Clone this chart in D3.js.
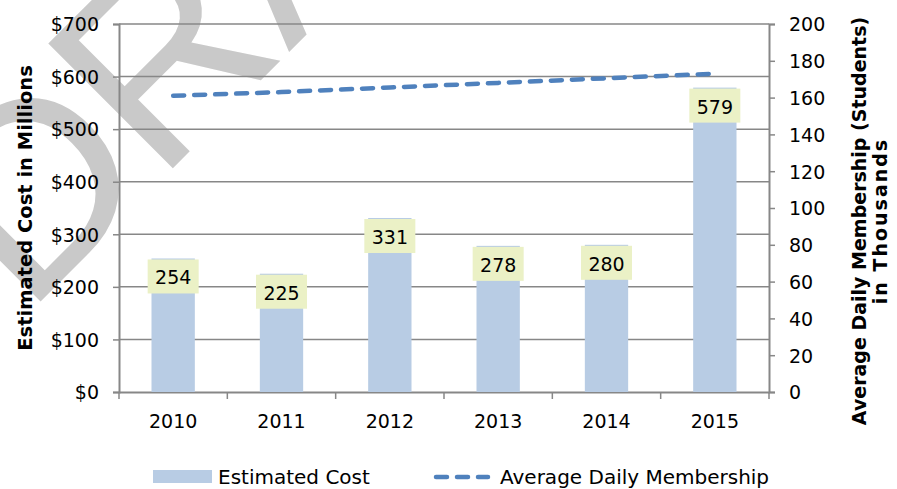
<!DOCTYPE html>
<html>
<head>
<meta charset="utf-8">
<script src="https://cdn.jsdelivr.net/npm/d3@7"></script>
<style>
  body { margin: 0; background: #fff; }
  svg { display: block; font-family: "DejaVu Sans", Verdana, sans-serif; }
</style>
</head>
<body>
<script>
// chart values
const years = ['2010', '2011', '2012', '2013', '2014', '2015']
const estimatedCost = [254, 225, 331, 278, 280, 579]
const membership = [161, 163, 165.5, 168, 170.5, 173]
const costTicks = [0, 100, 200, 300, 400, 500, 600, 700]
const memberTicks = [0, 20, 40, 60, 80, 100, 120, 140, 160, 180, 200]

const W = 897, H = 489
const plot = {left: 119, right: 769, top: 24, bottom: 392}

const svg = d3.select('body').append('svg')
  .attr('width', W)
  .attr('height', H)

// watermark behind everything (letters placed one at a time, runs off the top edge)
const watermark = svg.append('g')
  .style('font-family', '"Liberation Sans", Arial, sans-serif')
  .style('font-size', '256px')
  .style('fill', '#c9c9c9')
watermark.append('text')
  .attr('transform', 'translate(25,317) rotate(-45) scale(1.05,1)')
  .text('D')
watermark.append('text')
  .attr('transform', 'translate(158,183) rotate(-45)')
  .text('RA')

const x = d3.scaleBand()
  .domain(years)
  .range([plot.left, plot.right])
  .paddingInner(0.6)
  .paddingOuter(0.3)

const yCost = d3.scaleLinear().domain([0, 700]).range([plot.bottom, plot.top])
const yMember = d3.scaleLinear().domain([0, 200]).range([plot.bottom, plot.top])

const AXIS_COLOR = '#878787'

// gridlines
svg.append('g')
  .selectAll('line')
  .data(costTicks.slice(1))
  .join('line')
  .attr('x1', plot.left)
  .attr('x2', plot.right)
  .attr('y1', d => yCost(d))
  .attr('y2', d => yCost(d))
  .style('stroke', AXIS_COLOR)
  .style('stroke-width', 1.5)

// left axis
const leftAxis = svg.append('g')
  .attr('transform', `translate(${plot.left},0)`)
  .call(d3.axisLeft(yCost).tickValues(costTicks).tickFormat(d => '$' + d).tickSize(6).tickPadding(14))

// right axis
const rightAxis = svg.append('g')
  .attr('transform', `translate(${plot.right},0)`)
  .call(d3.axisRight(yMember).tickValues(memberTicks).tickSize(6).tickPadding(14))

// bottom axis, ticks at category boundaries
const step = x.step()
const boundaries = d3.range(years.length + 1).map(i => plot.left + i * step)
const bottomAxis = svg.append('g')
  .attr('transform', `translate(0,${plot.bottom})`)
  .call(d3.axisBottom(x).tickSize(0).tickPadding(23))
bottomAxis.selectAll('.bound')
  .data(boundaries)
  .join('line')
  .attr('class', 'bound')
  .attr('x1', d => d).attr('x2', d => d)
  .attr('y1', 0).attr('y2', 7)

;[leftAxis, rightAxis, bottomAxis].forEach(g => {
  g.select('.domain').style('stroke', AXIS_COLOR).style('stroke-width', 2)
  g.selectAll('line').style('stroke', AXIS_COLOR).style('stroke-width', 1.5)
  g.selectAll('text')
    .style('font-family', '"DejaVu Sans", Verdana, sans-serif')
    .style('font-size', '19px')
    .style('fill', '#000')
})
leftAxis.selectAll('.tick text').attr('dy', '0.36em')
rightAxis.selectAll('.tick text').attr('dy', '0.36em')

// bars
svg.append('g')
  .selectAll('rect')
  .data(years)
  .join('rect')
  .attr('x', d => x(d))
  .attr('width', x.bandwidth())
  .attr('y', (d, i) => yCost(estimatedCost[i]))
  .attr('height', (d, i) => plot.bottom - yCost(estimatedCost[i]))
  .style('fill', '#b8cce4')

// data labels (inside end)
const labels = svg.append('g')
  .selectAll('g')
  .data(years)
  .join('g')
  .attr('transform', (d, i) => `translate(${x(d) + x.bandwidth() / 2},${yCost(estimatedCost[i]) + 1})`)

labels.append('rect')
  .attr('x', -25.5)
  .attr('width', 51)
  .attr('height', 34)
  .style('fill', '#ebf1c6')

labels.append('text')
  .attr('y', 25)
  .attr('text-anchor', 'middle')
  .style('font-size', '19px')
  .text((d, i) => estimatedCost[i])

// membership line
const line = d3.line()
  .x((d, i) => x(years[i]) + x.bandwidth() / 2)
  .y(d => yMember(d))

svg.append('path')
  .datum(membership)
  .attr('d', line)
  .style('fill', 'none')
  .style('stroke', '#4f81bd')
  .style('stroke-width', 4.5)
  .style('stroke-linecap', 'round')
  .style('stroke-dasharray', '11,10')

// axis titles
svg.append('text')
  .attr('transform', `translate(32,${(plot.top + plot.bottom) / 2}) rotate(-90)`)
  .attr('text-anchor', 'middle')
  .style('font-size', '19.5px')
  .style('font-weight', 'bold')
  .text('Estimated Cost in Millions')

const rightTitle = svg.append('text')
  .attr('transform', `translate(866,221) rotate(-90)`)
  .attr('text-anchor', 'middle')
  .style('font-size', '19px')
  .style('font-weight', 'bold')
rightTitle.append('tspan').attr('x', 0).attr('dy', 0).text('Average Daily Membership (Students)')
rightTitle.append('tspan').attr('x', 0).attr('dy', 21)
  .style('letter-spacing', '2px')
  .text('in Thousands')

// legend
const legend = svg.append('g')
legend.append('rect')
  .attr('x', 153).attr('y', 470)
  .attr('width', 59).attr('height', 13)
  .style('fill', '#b8cce4')
legend.append('text')
  .attr('x', 218).attr('y', 484)
  .style('font-size', '20px')
  .text('Estimated Cost')
legend.append('line')
  .attr('x1', 436).attr('x2', 488)
  .attr('y1', 477).attr('y2', 477)
  .style('stroke', '#4f81bd')
  .style('stroke-width', 4.5)
  .style('stroke-linecap', 'round')
  .style('stroke-dasharray', '11,10')
legend.append('text')
  .attr('x', 500).attr('y', 484)
  .style('font-size', '20px')
  .text('Average Daily Membership')
</script>
</body>
</html>
